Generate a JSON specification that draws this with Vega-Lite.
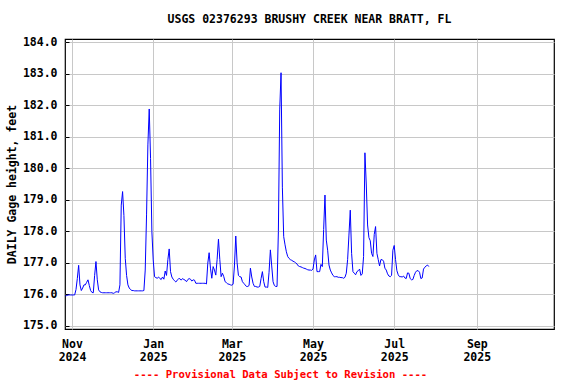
{
  "$schema": "https://vega.github.io/schema/vega-lite/v6.json",
  "width": 489,
  "height": 290,
  "autosize": "none",
  "padding": {"left": 65, "top": 39, "right": 22, "bottom": 55},
  "background": "white",
  "title": {
    "text": "USGS 02376293 BRUSHY CREEK NEAR BRATT, FL",
    "font": "DejaVu Sans Mono",
    "fontSize": 11.5,
    "fontWeight": "bold",
    "color": "black",
    "anchor": "middle",
    "offset": 11
  },
  "config": {
    "view": {"stroke": "black", "strokeWidth": 1.2}
  },
  "data": {
    "values": [
      {"d":"2024-10-27","v":175.95},{"d":"2024-10-28","v":175.96},{"d":"2024-10-29","v":175.98},{"d":"2024-10-30","v":175.98},{"d":"2024-10-31","v":175.98},
      {"d":"2024-11-01","v":175.98},{"d":"2024-11-02","v":175.98},{"d":"2024-11-03","v":175.98},{"d":"2024-11-04","v":176.15},{"d":"2024-11-05","v":176.5},
      {"d":"2024-11-06","v":176.92},{"d":"2024-11-07","v":176.3},{"d":"2024-11-08","v":176.12},{"d":"2024-11-09","v":176.2},{"d":"2024-11-10","v":176.3},
      {"d":"2024-11-11","v":176.3},{"d":"2024-11-12","v":176.38},{"d":"2024-11-13","v":176.46},{"d":"2024-11-14","v":176.28},{"d":"2024-11-15","v":176.12},
      {"d":"2024-11-16","v":176.06},{"d":"2024-11-17","v":176.05},{"d":"2024-11-18","v":176.6},{"d":"2024-11-19","v":177.04},{"d":"2024-11-20","v":176.46},
      {"d":"2024-11-21","v":176.14},{"d":"2024-11-22","v":176.08},{"d":"2024-11-23","v":176.06},{"d":"2024-11-24","v":176.05},{"d":"2024-11-25","v":176.05},
      {"d":"2024-11-26","v":176.05},{"d":"2024-11-27","v":176.05},{"d":"2024-11-28","v":176.05},{"d":"2024-11-29","v":176.05},{"d":"2024-11-30","v":176.05},
      {"d":"2024-12-01","v":176.05},{"d":"2024-12-02","v":176.03},{"d":"2024-12-03","v":176.05},{"d":"2024-12-04","v":176.08},{"d":"2024-12-05","v":176.08},
      {"d":"2024-12-06","v":176.06},{"d":"2024-12-07","v":176.3},{"d":"2024-12-08","v":178.83},{"d":"2024-12-09","v":179.26},{"d":"2024-12-10","v":178.5},
      {"d":"2024-12-11","v":177.14},{"d":"2024-12-12","v":176.6},{"d":"2024-12-13","v":176.3},{"d":"2024-12-14","v":176.2},{"d":"2024-12-15","v":176.15},
      {"d":"2024-12-16","v":176.12},{"d":"2024-12-17","v":176.12},{"d":"2024-12-18","v":176.11},{"d":"2024-12-19","v":176.11},{"d":"2024-12-20","v":176.11},
      {"d":"2024-12-21","v":176.11},{"d":"2024-12-22","v":176.11},{"d":"2024-12-23","v":176.11},{"d":"2024-12-24","v":176.11},{"d":"2024-12-25","v":176.12},
      {"d":"2024-12-26","v":176.77},{"d":"2024-12-27","v":178.52},{"d":"2024-12-28","v":180.74},{"d":"2024-12-29","v":181.88},{"d":"2024-12-30","v":180.31},
      {"d":"2024-12-31","v":177.99},{"d":"2025-01-01","v":177.09},{"d":"2025-01-02","v":176.56},{"d":"2025-01-03","v":176.53},{"d":"2025-01-04","v":176.51},
      {"d":"2025-01-05","v":176.55},{"d":"2025-01-06","v":176.5},{"d":"2025-01-07","v":176.47},{"d":"2025-01-08","v":176.55},{"d":"2025-01-09","v":176.48},
      {"d":"2025-01-10","v":176.74},{"d":"2025-01-11","v":176.6},{"d":"2025-01-12","v":177.1},{"d":"2025-01-13","v":177.44},{"d":"2025-01-14","v":176.72},
      {"d":"2025-01-15","v":176.55},{"d":"2025-01-16","v":176.48},{"d":"2025-01-17","v":176.43},{"d":"2025-01-18","v":176.39},{"d":"2025-01-19","v":176.45},
      {"d":"2025-01-20","v":176.49},{"d":"2025-01-21","v":176.5},{"d":"2025-01-22","v":176.45},{"d":"2025-01-23","v":176.5},{"d":"2025-01-24","v":176.47},
      {"d":"2025-01-25","v":176.45},{"d":"2025-01-26","v":176.4},{"d":"2025-01-27","v":176.47},{"d":"2025-01-28","v":176.5},{"d":"2025-01-29","v":176.48},
      {"d":"2025-01-30","v":176.42},{"d":"2025-01-31","v":176.46},{"d":"2025-02-01","v":176.45},{"d":"2025-02-02","v":176.35},{"d":"2025-02-03","v":176.35},
      {"d":"2025-02-04","v":176.35},{"d":"2025-02-05","v":176.35},{"d":"2025-02-06","v":176.35},{"d":"2025-02-07","v":176.35},{"d":"2025-02-08","v":176.35},
      {"d":"2025-02-09","v":176.35},{"d":"2025-02-10","v":176.33},{"d":"2025-02-11","v":176.99},{"d":"2025-02-12","v":177.32},{"d":"2025-02-13","v":176.83},
      {"d":"2025-02-14","v":176.51},{"d":"2025-02-15","v":176.88},{"d":"2025-02-16","v":176.77},{"d":"2025-02-17","v":176.61},{"d":"2025-02-18","v":177.11},
      {"d":"2025-02-19","v":177.75},{"d":"2025-02-20","v":177.11},{"d":"2025-02-21","v":176.56},{"d":"2025-02-22","v":176.67},{"d":"2025-02-23","v":176.56},
      {"d":"2025-02-24","v":176.4},{"d":"2025-02-25","v":176.37},{"d":"2025-02-26","v":176.33},{"d":"2025-02-27","v":176.32},{"d":"2025-02-28","v":176.3},
      {"d":"2025-03-01","v":176.29},{"d":"2025-03-02","v":176.32},{"d":"2025-03-03","v":176.9},{"d":"2025-03-04","v":177.85},{"d":"2025-03-05","v":177.0},
      {"d":"2025-03-06","v":176.6},{"d":"2025-03-07","v":176.56},{"d":"2025-03-08","v":176.55},{"d":"2025-03-09","v":176.4},{"d":"2025-03-10","v":176.35},
      {"d":"2025-03-11","v":176.3},{"d":"2025-03-12","v":176.25},{"d":"2025-03-13","v":176.25},{"d":"2025-03-14","v":176.28},{"d":"2025-03-15","v":176.83},
      {"d":"2025-03-16","v":176.55},{"d":"2025-03-17","v":176.35},{"d":"2025-03-18","v":176.25},{"d":"2025-03-19","v":176.25},{"d":"2025-03-20","v":176.23},
      {"d":"2025-03-21","v":176.23},{"d":"2025-03-22","v":176.25},{"d":"2025-03-23","v":176.5},{"d":"2025-03-24","v":176.72},{"d":"2025-03-25","v":176.4},
      {"d":"2025-03-26","v":176.23},{"d":"2025-03-27","v":176.23},{"d":"2025-03-28","v":176.22},{"d":"2025-03-29","v":176.7},{"d":"2025-03-30","v":177.41},
      {"d":"2025-03-31","v":176.9},{"d":"2025-04-01","v":176.4},{"d":"2025-04-02","v":176.28},{"d":"2025-04-03","v":176.25},{"d":"2025-04-04","v":176.25},
      {"d":"2025-04-05","v":178.0},{"d":"2025-04-06","v":181.85},{"d":"2025-04-07","v":183.03},{"d":"2025-04-08","v":179.4},{"d":"2025-04-09","v":177.83},
      {"d":"2025-04-10","v":177.57},{"d":"2025-04-11","v":177.35},{"d":"2025-04-12","v":177.2},{"d":"2025-04-13","v":177.14},{"d":"2025-04-14","v":177.1},
      {"d":"2025-04-15","v":177.08},{"d":"2025-04-16","v":177.05},{"d":"2025-04-17","v":177.03},{"d":"2025-04-18","v":177.0},{"d":"2025-04-19","v":176.96},
      {"d":"2025-04-20","v":176.9},{"d":"2025-04-21","v":176.88},{"d":"2025-04-22","v":176.87},{"d":"2025-04-23","v":176.85},{"d":"2025-04-24","v":176.83},
      {"d":"2025-04-25","v":176.82},{"d":"2025-04-26","v":176.8},{"d":"2025-04-27","v":176.78},{"d":"2025-04-28","v":176.77},{"d":"2025-04-29","v":176.77},
      {"d":"2025-04-30","v":176.76},{"d":"2025-05-01","v":176.8},{"d":"2025-05-02","v":177.09},{"d":"2025-05-03","v":177.25},{"d":"2025-05-04","v":176.72},
      {"d":"2025-05-05","v":176.72},{"d":"2025-05-06","v":176.72},{"d":"2025-05-07","v":176.95},{"d":"2025-05-08","v":176.88},{"d":"2025-05-09","v":178.06},
      {"d":"2025-05-10","v":179.15},{"d":"2025-05-11","v":177.72},{"d":"2025-05-12","v":177.4},{"d":"2025-05-13","v":176.93},{"d":"2025-05-14","v":176.77},
      {"d":"2025-05-15","v":176.68},{"d":"2025-05-16","v":176.6},{"d":"2025-05-17","v":176.56},{"d":"2025-05-18","v":176.56},{"d":"2025-05-19","v":176.56},
      {"d":"2025-05-20","v":176.54},{"d":"2025-05-21","v":176.54},{"d":"2025-05-22","v":176.53},{"d":"2025-05-23","v":176.53},{"d":"2025-05-24","v":176.51},
      {"d":"2025-05-25","v":176.54},{"d":"2025-05-26","v":176.67},{"d":"2025-05-27","v":177.1},{"d":"2025-05-28","v":177.88},{"d":"2025-05-29","v":178.67},
      {"d":"2025-05-30","v":177.3},{"d":"2025-05-31","v":176.72},{"d":"2025-06-01","v":176.67},{"d":"2025-06-02","v":176.62},{"d":"2025-06-03","v":176.72},
      {"d":"2025-06-04","v":176.75},{"d":"2025-06-05","v":176.8},{"d":"2025-06-06","v":176.6},{"d":"2025-06-07","v":176.65},{"d":"2025-06-08","v":177.2},
      {"d":"2025-06-09","v":180.49},{"d":"2025-06-10","v":179.5},{"d":"2025-06-11","v":178.2},{"d":"2025-06-12","v":177.8},{"d":"2025-06-13","v":177.7},
      {"d":"2025-06-14","v":177.3},{"d":"2025-06-15","v":177.2},{"d":"2025-06-16","v":177.9},{"d":"2025-06-17","v":178.15},{"d":"2025-06-18","v":177.3},
      {"d":"2025-06-19","v":177.1},{"d":"2025-06-20","v":176.9},{"d":"2025-06-21","v":177.1},{"d":"2025-06-22","v":177.1},{"d":"2025-06-23","v":177.05},
      {"d":"2025-06-24","v":176.83},{"d":"2025-06-25","v":176.77},{"d":"2025-06-26","v":176.65},{"d":"2025-06-27","v":176.58},{"d":"2025-06-28","v":176.56},
      {"d":"2025-06-29","v":176.6},{"d":"2025-06-30","v":177.4},{"d":"2025-07-01","v":177.55},{"d":"2025-07-02","v":177.1},{"d":"2025-07-03","v":176.75},
      {"d":"2025-07-04","v":176.62},{"d":"2025-07-05","v":176.56},{"d":"2025-07-06","v":176.56},{"d":"2025-07-07","v":176.55},{"d":"2025-07-08","v":176.58},
      {"d":"2025-07-09","v":176.52},{"d":"2025-07-10","v":176.5},{"d":"2025-07-11","v":176.68},{"d":"2025-07-12","v":176.67},{"d":"2025-07-13","v":176.5},
      {"d":"2025-07-14","v":176.46},{"d":"2025-07-15","v":176.47},{"d":"2025-07-16","v":176.6},{"d":"2025-07-17","v":176.7},{"d":"2025-07-18","v":176.75},
      {"d":"2025-07-19","v":176.75},{"d":"2025-07-20","v":176.7},{"d":"2025-07-21","v":176.5},{"d":"2025-07-22","v":176.52},{"d":"2025-07-23","v":176.8},
      {"d":"2025-07-24","v":176.86},{"d":"2025-07-25","v":176.9},{"d":"2025-07-26","v":176.93},{"d":"2025-07-27","v":176.88}
    ]
  },
  "mark": {"type": "line", "color": "#0000ff", "strokeWidth": 1, "interpolate": "linear"},
  "encoding": {
    "x": {
      "field": "d",
      "type": "temporal",
      "scale": {
        "type": "utc",
        "domain": [
          {"year": 2024, "month": 10, "date": 26, "hours": 18, "utc": true},
          {"year": 2025, "month": 10, "date": 29, "utc": true}
        ]
      },
      "axis": {
        "values": [
          {"year": 2024, "month": 11, "date": 1, "utc": true},
          {"year": 2025, "month": 1, "date": 1, "utc": true},
          {"year": 2025, "month": 3, "date": 1, "utc": true},
          {"year": 2025, "month": 5, "date": 1, "utc": true},
          {"year": 2025, "month": 7, "date": 1, "utc": true},
          {"year": 2025, "month": 9, "date": 1, "utc": true}
        ],
        "labelExpr": "[utcFormat(datum.value, '%b'), utcFormat(datum.value, '%Y')]",
        "grid": true,
        "gridColor": "#c8c8c8",
        "gridWidth": 1,
        "gridOpacity": 1,
        "ticks": false,
        "domain": false,
        "labelFont": "DejaVu Sans Mono",
        "labelFontWeight": "bold",
        "labelFontSize": 11.5,
        "labelColor": "black",
        "labelPadding": 9.5,
        "labelLineHeight": 12.5,
        "labelOverlap": false,
        "labelFlush": false,
        "title": "---- Provisional Data Subject to Revision ----",
        "titleColor": "#ff0000",
        "titleFont": "DejaVu Sans Mono",
        "titleFontWeight": "bold",
        "titleFontSize": 10.6,
        "titleX": 215,
        "titleY": 45.5,
        "titleBaseline": "middle",
        "titleAlign": "center",
        "titleAnchor": null
      }
    },
    "y": {
      "field": "v",
      "type": "quantitative",
      "scale": {"domain": [174.9, 184.1], "nice": false, "zero": false},
      "axis": {
        "values": [175, 176, 177, 178, 179, 180, 181, 182, 183, 184],
        "format": ".1f",
        "grid": true,
        "gridColor": "#c8c8c8",
        "gridWidth": 1,
        "gridOpacity": 1,
        "ticks": true,
        "tickSize": -4,
        "tickColor": "black",
        "domain": false,
        "labelFont": "DejaVu Sans Mono",
        "labelFontWeight": "bold",
        "labelFontSize": 11.5,
        "labelColor": "black",
        "labelPadding": 12,
        "labelOverlap": false,
        "labelFlush": false,
        "title": "DAILY Gage height, feet",
        "titleColor": "black",
        "titleFont": "DejaVu Sans Mono",
        "titleFontWeight": "bold",
        "titleFontSize": 11.5,
        "titleX": -53,
        "titleY": 145,
        "titleAngle": -90,
        "titleAlign": "center",
        "titleBaseline": "middle"
      }
    }
  }
}
